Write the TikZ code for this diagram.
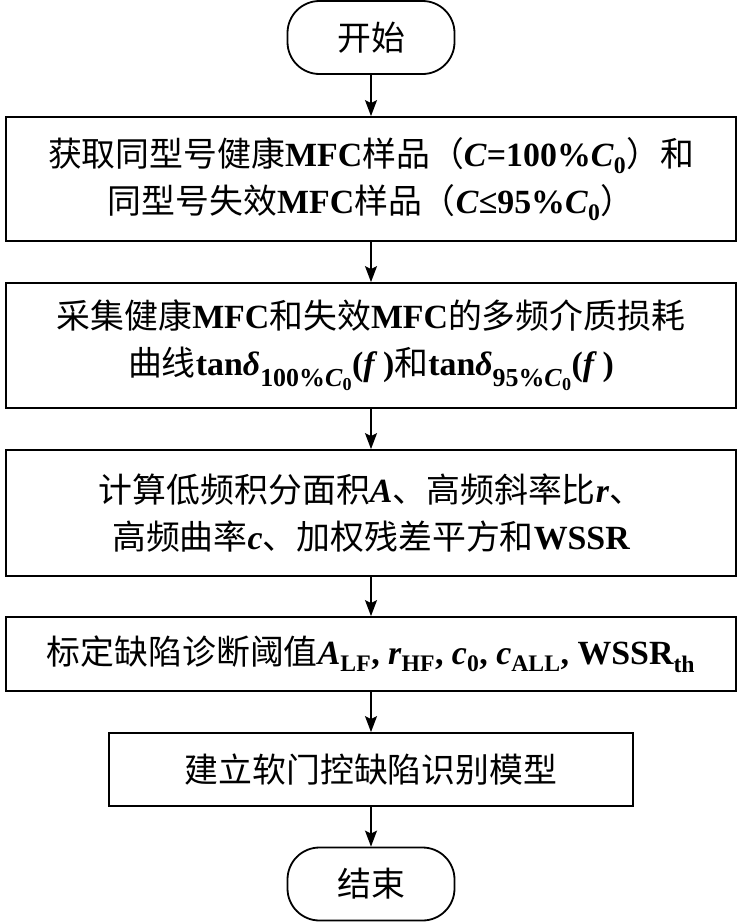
\documentclass[tikz,border=0pt]{standalone}
\usepackage{fontspec}
\setmainfont{Liberation Serif}
\newfontfamily\cjk{Noto Sans CJK SC}
\usetikzlibrary{arrows.meta}
\newcommand\zh[1]{{\cjk\mdseries #1}}
\newcommand\lowidx[1]{\raisebox{-0.33em}{\fontsize{26}{26}\selectfont #1}}

\begin{document}
\begin{tikzpicture}[x=1bp, y=-1bp,
    box/.style={draw, line width=1.8bp, inner sep=0pt, align=center,
      font=\fontsize{34}{47}\selectfont\bfseries},
    term/.style={box, rounded corners=32bp, minimum width=167bp, minimum height=73bp},
    flow/.style={line width=1.5bp, -{Stealth[length=16bp, width=12bp, inset=3bp]}}]
          \useasboundingbox (0,0) rectangle (739,924);
          \node[term] (start) at (371, 37.5) {\zh{开始}};
          \node[box, minimum width=730bp, minimum height=124bp] (sample) at (371, 179)
            {\zh{获取同型号健康}MFC\zh{样品（}\textit{C}=100\%\textit{C}\textsubscript{0}\zh{）和}\\
             \zh{同型号失效}MFC\zh{样品（}\textit{C}≤95\%\textit{C}\textsubscript{0}\zh{）}};
          \node[box, minimum width=730bp, minimum height=125bp] (collect) at (371, 345.5)
            {\zh{采集健康}MFC\zh{和失效}MFC\zh{的多频介质损耗}\\
             \zh{曲线}tan\textit{δ}\lowidx{100\%\textit{C}\textsubscript{0}}(\textit{f}\,)\zh{和}tan\textit{δ}\lowidx{95\%\textit{C}\textsubscript{0}}(\textit{f}\,)};
          \node[box, minimum width=730bp, minimum height=126bp] (calc) at (371, 513)
            {\zh{计算低频积分面积}\textit{A}\zh{、高频斜率比}\textit{r}\zh{、}\\
             \zh{高频曲率}\textit{c}\zh{、加权残差平方和}WSSR};
          \node[box, minimum width=730bp, minimum height=74bp] (thresh) at (371, 654)
            {\zh{标定缺陷诊断阈值}\textit{A}\textsubscript{LF}, \textit{r}\textsubscript{HF}, \textit{c}\textsubscript{0}, \textit{c}\textsubscript{ALL}, WSSR\textsubscript{th}};
          \node[box, minimum width=524bp, minimum height=73bp] (model) at (371, 769.5)
            {\zh{建立软门控缺陷识别模型}};
          \node[term] (stop) at (371, 884) {\zh{结束}};
          %
          \draw[flow] (start) -- (sample);
          \draw[flow] (sample) -- (collect);
          \draw[flow] (collect) -- (calc);
          \draw[flow] (calc) -- (thresh);
          \draw[flow] (thresh) -- (model);
          \draw[flow] (model) -- (stop);
        \end{tikzpicture}
\end{document}
